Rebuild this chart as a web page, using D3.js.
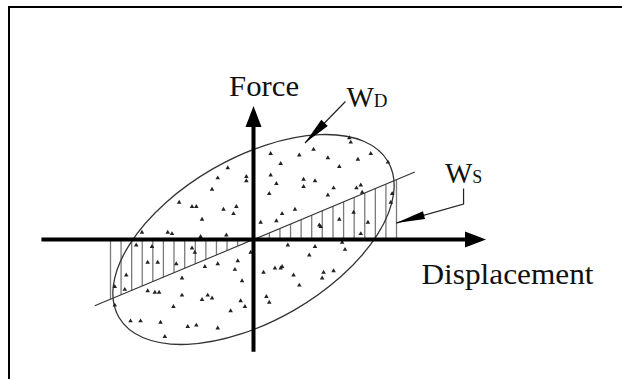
<!DOCTYPE html>
<html>
<head>
<meta charset="utf-8">
<script src="https://cdn.jsdelivr.net/npm/d3@7"></script>
<style>
  html, body { margin: 0; padding: 0; background: #fff; }
  svg { display: block; }
  text { font-family: "Liberation Serif", "DejaVu Serif", serif; fill: #111; }
</style>
</head>
<body>
<svg id="plot"></svg>
<script>
// Axis extents (displacement / force, normalised so that max displacement = 1)
let dispAxis = [-1.483, 1.626];
let forceAxis = [-0.785, 0.934];

// Hysteresis loop (ellipse): semi-axes and tilt in degrees
let loopAxes = [1.087, 0.570];
let loopTilt = 30;

// Effective stiffness line (force = k * displacement)
let stiffness = 0.418;
let stiffnessRange = [-1.11, 1.128];

// Hatch positions for the strain energy triangles
let hatchRight = [1, 0.926, 0.852, 0.778, 0.704, 0.63, 0.556, 0.481, 0.407, 0.333, 0.259, 0.185, 0.111, 0.037];
let hatchLeft = [-1, -0.926, -0.852, -0.778, -0.704, -0.63, -0.556, -0.481, -0.407, -0.333, -0.259, -0.185, -0.111, -0.037];

// Stipple dots inside the loop [displacement, force]
let stipple = [
    [-0.18, 0.50], [-0.25, 0.43], [-0.05, 0.44], [-0.05, 0.41], [-0.29, 0.35], [-0.52, 0.26],
    [-0.43, 0.23], [-0.40, 0.23], [-0.21, 0.21], [-0.12, 0.23], [-0.14, 0.18], [-0.36, 0.14],
    [-0.78, 0.05], [-0.60, 0.05], [-0.57, 0.04], [-0.37, 0.02], [-0.19, 0.03],
    [0.67, 0.71], [0.68, 0.68], [0.12, 0.60], [0.32, 0.59], [0.42, 0.63], [0.52, 0.57],
    [0.73, 0.56], [0.82, 0.60], [0.94, 0.54], [0.19, 0.53], [0.60, 0.51], [0.12, 0.45],
    [0.16, 0.39], [0.35, 0.42], [0.35, 0.37], [0.43, 0.41], [0.56, 0.36], [0.72, 0.36],
    [0.75, 0.38], [0.76, 0.33], [0.52, 0.31], [0.97, 0.32], [0.11, 0.32], [0.29, 0.21],
    [0.20, 0.18], [0.16, 0.13], [0.05, 0.12], [0.70, 0.19], [0.60, 0.14], [0.80, 0.12],
    [0.46, 0.10], [0.47, 0.09], [0.96, 0.26], [0.75, 0.04],
    [-0.82, -0.04], [-0.71, -0.05], [-0.43, -0.06], [-0.41, -0.09], [-0.74, -0.16], [-0.67, -0.16],
    [-0.54, -0.17], [-0.34, -0.19], [-0.25, -0.17], [-0.11, -0.15], [-0.13, -0.21], [-0.89, -0.25],
    [-0.50, -0.27], [-0.08, -0.29], [-0.90, -0.35], [-0.97, -0.33], [-0.74, -0.36], [-0.69, -0.37],
    [-0.66, -0.37], [-0.50, -0.39], [-0.36, -0.42], [-0.32, -0.39], [-0.29, -0.41], [-0.09, -0.43],
    [-0.56, -0.47], [-0.16, -0.50], [-0.06, -0.47], [-0.97, -0.46], [-0.86, -0.57], [-0.79, -0.57],
    [-0.65, -0.58], [-0.46, -0.61], [-0.40, -0.60], [-0.25, -0.62], [-0.62, -0.68], [-0.02, -0.09],
    [0.24, -0.04], [0.43, -0.05], [0.62, -0.02], [0.64, -0.07], [0.39, -0.11], [0.07, -0.23],
    [0.15, -0.20], [0.19, -0.20], [0.20, -0.19], [0.28, -0.25], [0.49, -0.23], [0.48, -0.27],
    [0.56, -0.22], [0.32, -0.32], [0.09, -0.40], [0.11, -0.44]
];

// Leader lines for the labels [displacement, force]
let leaderWD = [[0.643, 0.965], [0.36, 0.675]];
let leaderWS = [[1.469, 0.357], [1.469, 0.248], [0.997, 0.115]];

// Label anchors [displacement, force]
let labelForce = [-0.171, 1.003];
let labelWD = [0.650, 0.929];
let labelWS = [1.339, 0.397];
let labelDisp = [1.175, -0.311];

const width = 622, height = 379;

const x = d3.scaleLinear().domain([-1, 1]).range([110.5, 396.5]);
const y = d3.scaleLinear().domain([-1, 1]).range([382.5, 96.5]);

const svg = d3.select("#plot").attr("width", width).attr("height", height);

// Frame (only left and top edges are in view)
svg.append("path")
    .attr("d", "M9," + (height + 5) + "V7H" + (width + 5))
    .attr("fill", "none")
    .attr("stroke", "#000")
    .attr("stroke-width", 2);

// Filled arrowhead from a base point towards a tip
function arrowHead(g, tip, from, len, hw) {
    let dx = tip[0] - from[0], dy = tip[1] - from[1];
    let l = Math.sqrt(dx * dx + dy * dy);
    let ux = dx / l, uy = dy / l;
    let bx = tip[0] - ux * len, by = tip[1] - uy * len;
    g.append("path")
        .attr("d", "M" + tip[0] + "," + tip[1] +
            "L" + (bx - uy * hw) + "," + (by + ux * hw) +
            "L" + (bx + uy * hw) + "," + (by - ux * hw) + "Z")
        .attr("fill", "#000");
}

// Hatching between displacement axis and stiffness line
svg.append("g")
    .selectAll("line")
    .data(hatchLeft.concat(hatchRight))
    .enter()
    .append("line")
    .attr("x1", (d) => x(d))
    .attr("x2", (d) => x(d))
    .attr("y1", y(0))
    .attr("y2", (d) => y(stiffness * d))
    .attr("stroke", "#7a7a7a")
    .attr("stroke-width", 1.3);

// Stiffness line
svg.append("line")
    .attr("x1", x(stiffnessRange[0]))
    .attr("y1", y(stiffness * stiffnessRange[0]))
    .attr("x2", x(stiffnessRange[1]))
    .attr("y2", y(stiffness * stiffnessRange[1]))
    .attr("stroke", "#333")
    .attr("stroke-width", 1.1);

// Hysteresis loop
svg.append("ellipse")
    .attr("cx", 0)
    .attr("cy", 0)
    .attr("rx", x(loopAxes[0]) - x(0))
    .attr("ry", y(0) - y(loopAxes[1]))
    .attr("transform", "translate(" + x(0) + "," + y(0) + ") rotate(" + (-loopTilt) + ")")
    .attr("fill", "none")
    .attr("stroke", "#333")
    .attr("stroke-width", 1.3);

// Stipple
svg.append("g")
    .selectAll("path")
    .data(stipple)
    .enter()
    .append("path")
    .attr("d", d3.symbol().type(d3.symbolTriangle).size(9))
    .attr("transform", (d) => "translate(" + x(d[0]) + "," + y(d[1]) + ")")
    .attr("fill", "#222");

// Axes with arrows
const axes = svg.append("g");
axes.append("line")
    .attr("x1", x(dispAxis[0])).attr("y1", y(0))
    .attr("x2", x(dispAxis[1]) - 15).attr("y2", y(0))
    .attr("stroke", "#000").attr("stroke-width", 4);
arrowHead(axes, [x(dispAxis[1]), y(0)], [x(0), y(0)], 21, 8);

axes.append("line")
    .attr("x1", x(0)).attr("y1", y(forceAxis[0]))
    .attr("x2", x(0)).attr("y2", y(forceAxis[1]) + 15)
    .attr("stroke", "#000").attr("stroke-width", 4);
arrowHead(axes, [x(0), y(forceAxis[1])], [x(0), y(0)], 21, 8);

// Leader lines
const lead = svg.append("g");
let wdPts = leaderWD.map((p) => [x(p[0]), y(p[1])]);
lead.append("path")
    .attr("d", d3.line()(wdPts))
    .attr("fill", "none").attr("stroke", "#222").attr("stroke-width", 1.2);
arrowHead(lead, wdPts[1], wdPts[0], 28, 4.5);

let wsPts = leaderWS.map((p) => [x(p[0]), y(p[1])]);
lead.append("path")
    .attr("d", d3.line()(wsPts))
    .attr("fill", "none").attr("stroke", "#222").attr("stroke-width", 1.2);
arrowHead(lead, wsPts[2], wsPts[1], 29, 4);

// Labels
svg.append("text")
    .attr("x", x(labelForce[0])).attr("y", y(labelForce[1]))
    .attr("font-size", 29)
    .attr("textLength", 70)
    .attr("lengthAdjust", "spacingAndGlyphs")
    .text("Force");

let wd = svg.append("text")
    .attr("x", x(labelWD[0])).attr("y", y(labelWD[1]))
    .attr("font-size", 29);
wd.append("tspan").text("W");
wd.append("tspan").attr("font-size", 19).text("D");

let ws = svg.append("text")
    .attr("x", x(labelWS[0])).attr("y", y(labelWS[1]))
    .attr("font-size", 29);
ws.append("tspan").text("W");
ws.append("tspan").attr("font-size", 18).text("S");

svg.append("text")
    .attr("x", x(labelDisp[0])).attr("y", y(labelDisp[1]))
    .attr("font-size", 29)
    .attr("textLength", 172)
    .attr("lengthAdjust", "spacingAndGlyphs")
    .text("Displacement");
</script>
</body>
</html>
